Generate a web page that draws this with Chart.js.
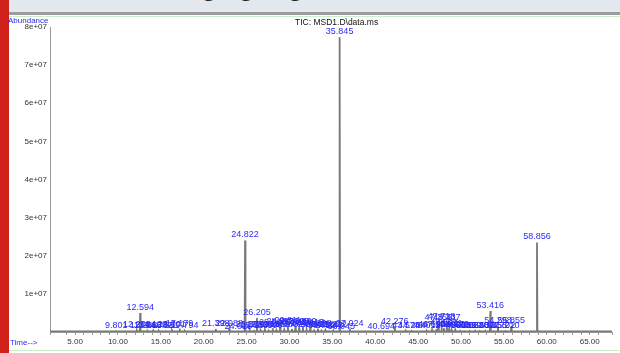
<!DOCTYPE html>
<html>
<head>
<meta charset="utf-8">
<script src="https://cdn.jsdelivr.net/npm/chart.js@4"></script>
<style>
  body { margin: 0; width: 620px; height: 353px; background: #fff; position: relative; overflow: hidden; font-family: "Liberation Sans", Arial, sans-serif; }
  #band { position: absolute; left: 0; top: 0; width: 620px; height: 12px; background: #e3e8ef; overflow: hidden; }
  #band span { position: absolute; left: 196px; top: -25px; font: 24px "Liberation Serif", serif; color: #222; }
  #rule { position: absolute; left: 0; top: 12px; width: 620px; height: 3px; background: #9c9c9c; }
  #green1 { position: absolute; left: 0; top: 16px; width: 620px; height: 1px; background: #cdeecd; }
  #green2 { position: absolute; left: 0; top: 350px; width: 620px; height: 1px; background: #cdeecd; }
  #red { position: absolute; left: 0; top: 0; width: 9px; height: 353px; background: #d0211a; }
  .lbl { position: absolute; font-size: 8px; white-space: nowrap; }
  #wrap { position: absolute; left: 10px; top: 17px; width: 610px; height: 333px; }
</style>
</head>
<body>
<div id="band"><span>ighlighting</span></div>
<div id="rule"></div>
<div id="green1"></div>
<div id="green2"></div>
<div id="wrap"><canvas id="myChart"></canvas></div>
<div id="red"></div>
<div class="lbl" style="left:8px;top:16px;color:#2a2af0;">Abundance</div>
<div class="lbl" style="left:295px;top:17px;color:#111;font-size:8.5px;">TIC: MSD1.D\data.ms</div>
<div class="lbl" style="left:10px;top:338px;color:#2a2af0;">Time--&gt;</div>
<script>
// retention times (min) and heights (abundance) of the peaks
let peakTimes = [9.801, 12.208, 12.594, 12.988, 13.466, 14.120, 14.782, 15.551, 16.301, 17.179, 17.794,
  21.398, 22.988, 24.019, 24.822, 25.371, 25.880, 26.205, 26.644, 27.132, 27.590, 28.040, 28.466, 28.912,
  29.387, 29.811, 30.274, 30.690, 31.118, 31.560, 32.004, 32.417, 32.863, 33.308, 33.752, 34.186, 34.643,
  35.112, 35.845, 36.045, 37.024, 40.694, 42.276, 43.574, 44.264, 46.012, 46.620, 47.104, 47.356, 47.718,
  48.002, 48.337, 48.611, 48.920, 49.320, 49.888, 50.412, 51.032, 51.640, 52.204, 52.822, 53.416, 53.755,
  54.298, 54.702, 55.210, 55.855, 58.856];
let peakHeights = [0.2e6, 0.4e6, 5.0e6, 0.3e6, 0.3e6, 0.4e6, 0.3e6, 0.3e6, 0.4e6, 0.9e6, 0.3e6,
  0.8e6, 0.9e6, 0.1e6, 24.0e6, 0.5e6, 0.3e6, 3.7e6, 0.4e6, 0.6e6, 0.3e6, 1.0e6, 0.5e6, 1.2e6,
  0.6e6, 1.5e6, 0.8e6, 1.3e6, 1.0e6, 1.4e6, 0.6e6, 1.1e6, 0.4e6, 0.9e6, 0.3e6, 0.5e6, 0.2e6,
  0.4e6, 77.3e6, 0.1e6, 0.9e6, 0.1e6, 1.3e6, 0.3e6, 0.2e6, 0.3e6, 0.6e6, 0.4e6, 2.3e6, 2.6e6,
  1.0e6, 2.4e6, 0.8e6, 0.5e6, 0.6e6, 0.3e6, 0.2e6, 0.2e6, 0.3e6, 0.2e6, 0.3e6, 5.5e6, 0.2e6,
  1.5e6, 0.2e6, 0.2e6, 1.5e6, 23.5e6];
let baseline = 0.15e6;
let timeRange = [2.08, 67.6];
let yTicks = [1e7, 2e7, 3e7, 4e7, 5e7, 6e7, 7e7, 8e7];
let xLabelTicks = [5, 10, 15, 20, 25, 30, 35, 40, 45, 50, 55, 60, 65];

// build the trace: baseline - apex - baseline for each peak
let trace = [{ x: timeRange[0], y: baseline }];
for (let i = 0; i < peakTimes.length; i++) {
  trace.push({ x: peakTimes[i] - 0.05, y: baseline });
  trace.push({ x: peakTimes[i], y: peakHeights[i] });
  trace.push({ x: peakTimes[i] + 0.05, y: baseline });
}
trace.push({ x: timeRange[1], y: baseline });

let markers = [];
for (let i = 0; i < peakTimes.length; i++) {
  markers.push({ x: peakTimes[i], y: 0 });
}

// peak labels drawn above each apex
const peakLabels = {
  id: "peakLabels",
  afterDatasetsDraw(chart) {
    let ctx = chart.ctx;
    let xs = chart.scales.x;
    let ys = chart.scales.y;
    ctx.save();
    ctx.font = "9px 'Liberation Sans', Arial, sans-serif";
    ctx.fillStyle = "#2b2bf5";
    ctx.textAlign = "center";
    ctx.textBaseline = "bottom";
    for (let i = 0; i < peakTimes.length; i++) {
      let px = xs.getPixelForValue(peakTimes[i]);
      let py = ys.getPixelForValue(peakHeights[i]);
      ctx.fillText(peakTimes[i].toFixed(3), px, py - 1);
    }
    ctx.restore();
  },
};

let ctx2 = document.getElementById("myChart").getContext("2d");
const myChart = new Chart(ctx2, {
  type: "line",
  data: {
    datasets: [
      {
        data: trace,
        borderColor: "#787878",
        borderWidth: 1.8,
        pointRadius: 0,
        tension: 0,
        order: 1,
      },
      {
        data: markers,
        showLine: false,
        pointStyle: "line",
        rotation: 90,
        pointRadius: 1.5,
        borderColor: "#e06060",
        borderWidth: 1,
        order: 2,
      },
    ],
  },
  options: {
    responsive: true,
    maintainAspectRatio: false,
    animation: false,
    layout: { padding: { top: 10, right: 8, left: 0, bottom: 0 } },
    plugins: { legend: { display: false }, tooltip: { enabled: false } },
    scales: {
      x: {
        type: "linear",
        min: timeRange[0],
        max: timeRange[1],
        afterFit: (s) => { s.height = 18; },
        grid: { drawOnChartArea: false, tickLength: 3, color: "#999" },
        border: { color: "#999", width: 1 },
        ticks: {
          stepSize: 1,
          autoSkip: false,
          maxRotation: 0,
          padding: 2,
          color: "#333",
          font: { size: 8, family: "'Liberation Sans', Arial, sans-serif" },
          callback: (v) => (xLabelTicks.includes(Math.round(v * 100) / 100) ? v.toFixed(2) : ""),
        },
      },
      y: {
        min: 0,
        max: 8e7,
        afterFit: (s) => { s.width = 40; },
        afterBuildTicks: (s) => { s.ticks = [{ value: 0 }].concat(yTicks.map((v) => ({ value: v }))); },
        grid: { drawOnChartArea: false, drawTicks: false, color: "#999" },
        border: { color: "#999", width: 1 },
        ticks: {
          padding: 3,
          color: "#333",
          font: { size: 8, family: "'Liberation Sans', Arial, sans-serif" },
          callback: (v) => (v === 0 ? "" : v / 1e7 + "e+07"),
        },
      },
    },
  },
  plugins: [peakLabels],
});
</script>
</body>
</html>
